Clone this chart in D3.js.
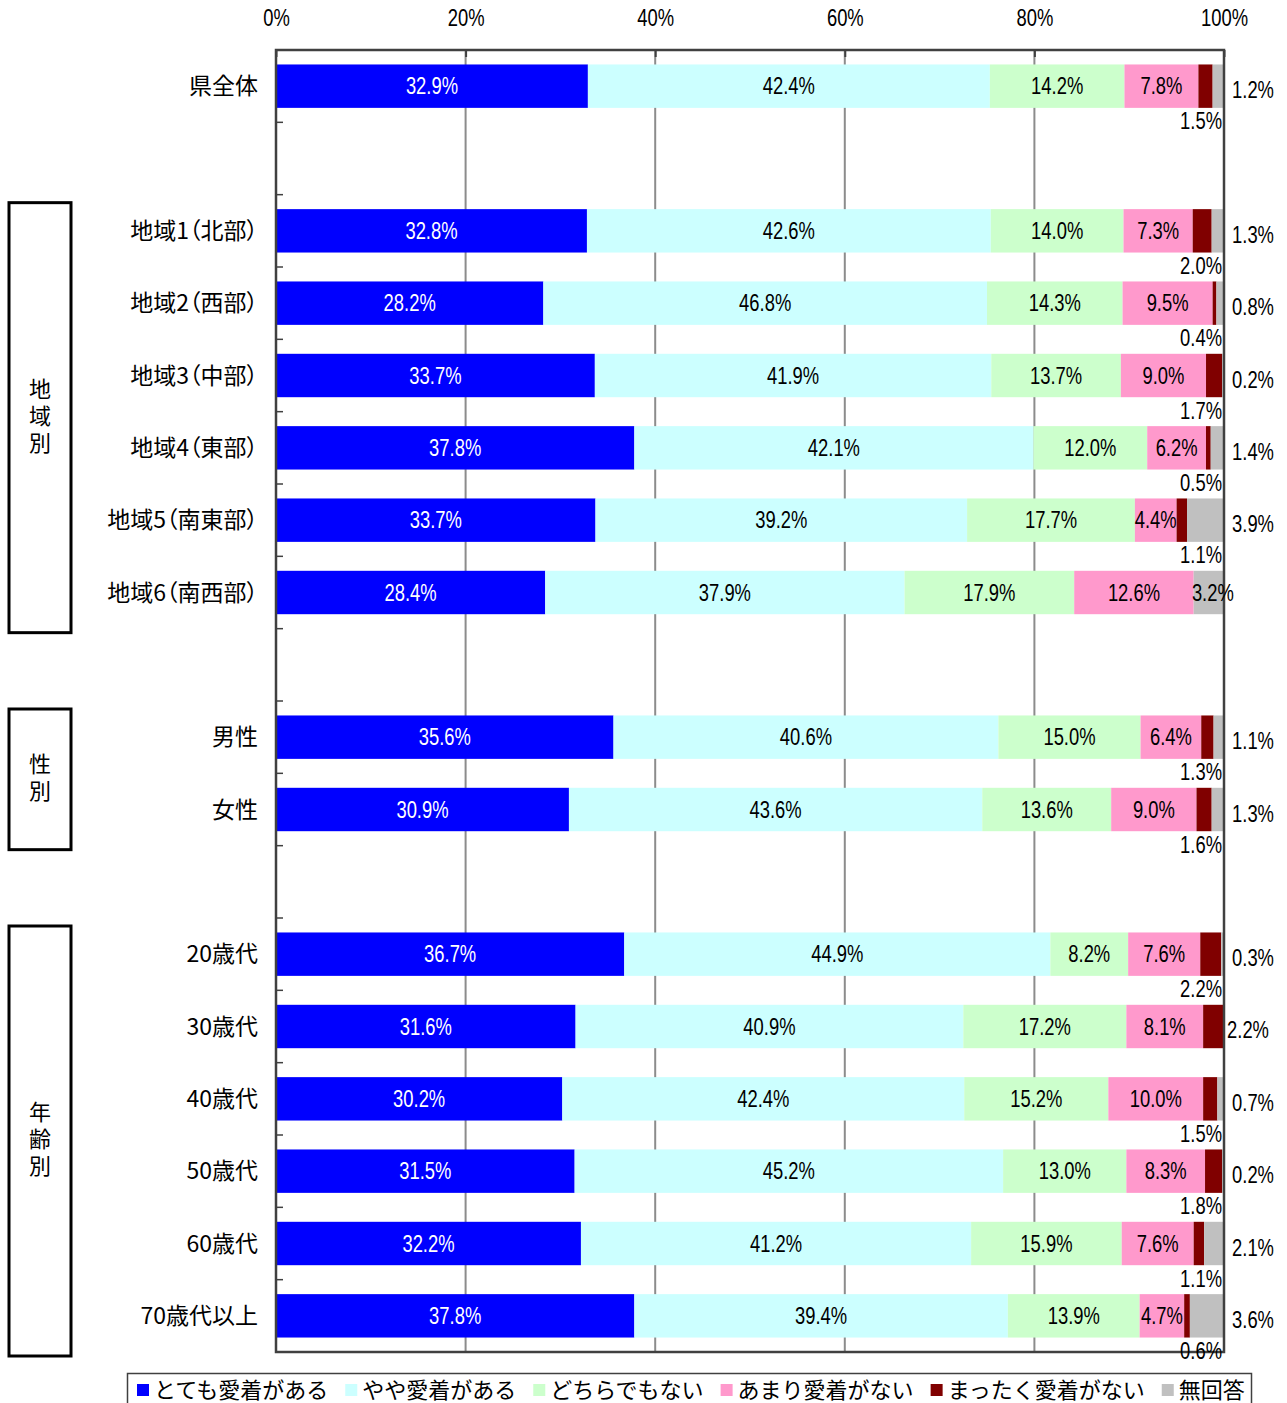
<!DOCTYPE html>
<html lang="ja">
<head>
<meta charset="utf-8">
<script src="https://cdn.jsdelivr.net/npm/d3@7"></script>
<style>
  body { margin: 0; background: #fff; }
  .num { font-family: "Liberation Sans", Arial, sans-serif; font-size: 23px; }
  .jp { font-family: "Noto Sans CJK JP", sans-serif; font-size: 22px; }
  .cat { font-family: "Noto Sans CJK JP", sans-serif; font-size: 23px; font-feature-settings: "palt"; }
  .vert { font-family: "Noto Sans CJK JP", sans-serif; font-size: 22px; writing-mode: vertical-rl; letter-spacing: 5px; }
</style>
</head>
<body>
<div id="chart"></div>
<script>
// rows (blank strings are spacer rows)
const categories = ["県全体", "", "地域1（北部）", "地域2（西部）", "地域3（中部）", "地域4（東部）",
  "地域5（南東部）", "地域6（南西部）", "", "男性", "女性", "", "20歳代", "30歳代", "40歳代",
  "50歳代", "60歳代", "70歳代以上"];

const seriesNames = ["とても愛着がある", "やや愛着がある", "どちらでもない", "あまり愛着がない", "まったく愛着がない", "無回答"];
const seriesColors = ["#0000FF", "#CCFFFF", "#CCFFCC", "#FF99CC", "#800000", "#C0C0C0"];

const veryAttached = [32.9, null, 32.8, 28.2, 33.7, 37.8, 33.7, 28.4, null, 35.6, 30.9, null, 36.7, 31.6, 30.2, 31.5, 32.2, 37.8];
const someAttached = [42.4, null, 42.6, 46.8, 41.9, 42.1, 39.2, 37.9, null, 40.6, 43.6, null, 44.9, 40.9, 42.4, 45.2, 41.2, 39.4];
const neutral      = [14.2, null, 14.0, 14.3, 13.7, 12.0, 17.7, 17.9, null, 15.0, 13.6, null, 8.2, 17.2, 15.2, 13.0, 15.9, 13.9];
const notMuch      = [7.8, null, 7.3, 9.5, 9.0, 6.2, 4.4, 12.6, null, 6.4, 9.0, null, 7.6, 8.1, 10.0, 8.3, 7.6, 4.7];
const notAtAll     = [1.5, null, 2.0, 0.4, 1.7, 0.5, 1.1, 0, null, 1.3, 1.6, null, 2.2, 2.2, 1.5, 1.8, 1.1, 0.6];
const noAnswer     = [1.2, null, 1.3, 0.8, 0.2, 1.4, 3.9, 3.2, null, 1.1, 1.3, null, 0.3, 0, 0.7, 0.2, 2.1, 3.6];

const xTicks = [0, 0.2, 0.4, 0.6, 0.8, 1];

const groups = [
  { label: "地域別", from: 2, to: 7 },
  { label: "性別", from: 9, to: 10 },
  { label: "年齢別", from: 12, to: 17 },
];

const seriesValues = [veryAttached, someAttached, neutral, notMuch, notAtAll, noAnswer];

const rows = categories.map((c, i) => {
  const r = { index: i, label: c };
  seriesNames.forEach((s, j) => (r[s] = seriesValues[j][i] || 0));
  return r;
});
const dataRows = rows.filter((r) => seriesValues[0][r.index] != null);

const W = 1287, H = 1403;
const plot = { left: 276, right: 1224, top: 50, bottom: 1352 };
const narrow = 0.8; // squeeze Liberation Sans to look like a narrow face

const svg = d3.select("#chart").append("svg").attr("width", W).attr("height", H);

const x = d3.scaleLinear().domain([0, 1]).range([plot.left, plot.right]);
const y = d3.scaleBand()
  .domain(d3.range(categories.length))
  .range([plot.top, plot.bottom])
  .paddingInner(0.4)
  .paddingOuter(0.2);

const color = d3.scaleOrdinal().domain(seriesNames).range(seriesColors);

const stacked = d3.stack().keys(seriesNames).offset(d3.stackOffsetExpand)(dataRows);

// gridlines
svg.append("g")
  .selectAll("line")
  .data(xTicks.slice(1, -1))
  .join("line")
  .attr("x1", (d) => x(d)).attr("x2", (d) => x(d))
  .attr("y1", plot.top).attr("y2", plot.bottom)
  .attr("stroke", "#8c8c8c").attr("stroke-width", 2);

// bars
svg.append("g")
  .selectAll("g")
  .data(stacked)
  .join("g")
  .attr("fill", (d) => color(d.key))
  .selectAll("rect")
  .data((d) => d)
  .join("rect")
  .attr("x", (d) => x(d[0]))
  .attr("y", (d) => y(d.data.index))
  .attr("width", (d) => x(d[1]) - x(d[0]))
  .attr("height", y.bandwidth());

// frame
svg.append("rect")
  .attr("x", plot.left).attr("y", plot.top)
  .attr("width", plot.right - plot.left).attr("height", plot.bottom - plot.top)
  .attr("fill", "none").attr("stroke", "#404040").attr("stroke-width", 2.5);

// top axis (ticks point into the plot)
const xAxis = svg.append("g")
  .attr("transform", `translate(0,${plot.top})`)
  .call(d3.axisTop(x).tickValues(xTicks).tickFormat(d3.format(".0%")).tickSizeInner(-7).tickSizeOuter(0));
xAxis.attr("font-size", null).attr("font-family", null);
xAxis.select(".domain").remove();
xAxis.selectAll("line").attr("stroke", "#404040").attr("stroke-width", 2);
xAxis.selectAll("text").remove();
xAxis.selectAll(".tick")
  .append("text")
  .style("font-family", '"Liberation Sans", Arial, sans-serif')
  .style("font-size", "23px")
  .attr("transform", `translate(0,-32) scale(${narrow},1)`)
  .attr("dy", "0.35em")
  .attr("text-anchor", "middle")
  .attr("fill", "#000")
  .text((d) => d3.format(".0%")(d));

// left boundary ticks
const boundary = (i) => y(i) - (y.step() * y.paddingInner()) / 2;
svg.append("g")
  .selectAll("line")
  .data(d3.range(1, categories.length))
  .join("line")
  .attr("x1", plot.left).attr("x2", plot.left + 7)
  .attr("y1", (i) => boundary(i))
  .attr("y2", (i) => boundary(i))
  .attr("stroke", "#404040").attr("stroke-width", 1.5);

// category labels
svg.append("g")
  .selectAll("text")
  .data(dataRows)
  .join("text")
  .attr("class", "cat")
  .attr("x", 258)
  .attr("y", (d) => y(d.index) + y.bandwidth() / 2)
  .attr("dy", "0.35em")
  .attr("text-anchor", "end")
  .text((d) => d.label);

// value labels
const labels = [];
stacked.forEach((s, si) => {
  s.forEach((d) => {
    const v = d.data[s.key];
    if (!v) return;
    const cy = y(d.data.index) + y.bandwidth() / 2;
    const cx = (x(d[0]) + x(d[1])) / 2;
    const txt = v.toFixed(1) + "%";
    const fill = si === 0 ? "#fff" : "#000";
    if (si < 4) {
      labels.push({ x: cx, y: cy, txt, anchor: "middle", fill });
    } else if (si === 4) {
      if (d.data["無回答"] === 0) labels.push({ x: plot.right + 24, y: cy + 3, txt, anchor: "middle", fill });
      else labels.push({ x: plot.right - 2, y: cy + 35, txt, anchor: "end", fill });
    } else {
      if (d.data["まったく愛着がない"] === 0) labels.push({ x: cx + 4, y: cy, txt, anchor: "middle", fill });
      else labels.push({ x: plot.right + 29, y: cy + 4, txt, anchor: "middle", fill });
    }
  });
});

svg.append("g")
  .selectAll("text")
  .data(labels)
  .join("text")
  .attr("class", "num")
  .attr("transform", (d) => `translate(${d.x},${d.y}) scale(${narrow},1)`)
  .attr("dy", "0.35em")
  .attr("text-anchor", (d) => d.anchor)
  .attr("fill", (d) => d.fill)
  .text((d) => d.txt);

// group boxes
const gBox = svg.append("g").selectAll("g").data(groups).join("g");
gBox.append("rect")
  .attr("x", 9).attr("width", 62)
  .attr("y", (d) => boundary(d.from) + 8)
  .attr("height", (d) => boundary(d.to) + y.step() + 4 - (boundary(d.from) + 8))
  .attr("fill", "none").attr("stroke", "#000").attr("stroke-width", 3);
gBox.append("text")
  .attr("class", "vert")
  .attr("x", 40)
  .attr("y", (d) => (boundary(d.from) + 8 + boundary(d.to) + y.step() + 4) / 2)
  .attr("text-anchor", "middle")
  .text((d) => d.label);

// legend
const legend = svg.append("g");
legend.append("rect")
  .attr("x", 127.5).attr("y", 1373.5).attr("width", 1124).attr("height", 40)
  .attr("fill", "none").attr("stroke", "#404040").attr("stroke-width", 1.5);
let lx = 137;
seriesNames.forEach((s) => {
  const item = legend.append("g");
  item.append("rect")
    .attr("x", lx).attr("y", 1384).attr("width", 12).attr("height", 12)
    .attr("fill", color(s));
  const t = item.append("text")
    .attr("class", "jp")
    .attr("x", lx + 17).attr("y", 1390).attr("dy", "0.35em")
    .text(s);
  lx += 17 + t.node().getComputedTextLength() + 17;
});
</script>
</body>
</html>
